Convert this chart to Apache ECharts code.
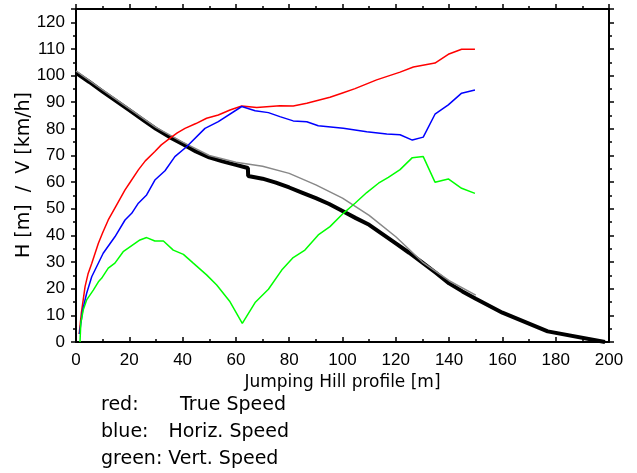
<!DOCTYPE html>
<html>
<head>
<meta charset="utf-8">
<script src="https://cdn.jsdelivr.net/npm/echarts@6/dist/echarts.min.js"></script>
<style>html,body{margin:0;padding:0;background:#fff}#c{width:637px;height:473px}</style>
</head>
<body>
<div id="c"></div>
<script>
// Hill profile (actual, thick black)
var blackX = [0, 5, 10, 15, 20, 25, 30, 35, 40, 45, 50, 55, 60, 64.5, 64.6, 70, 75, 80, 85, 90, 95, 100, 105, 110, 115, 120, 125, 130, 135, 140, 145, 150, 160, 177, 198.5];
var blackY = [101, 97.6, 94, 90.5, 87, 83.5, 80, 77, 74.3, 71.5, 69.3, 67.8, 66.5, 65.3, 62.3, 61.3, 59.8, 58, 56, 54, 51.8, 49.2, 46.5, 44, 40.5, 37, 33.5, 29.8, 26, 22, 19, 16.2, 11, 4, 0];
// Hill profile (reference, thin grey)
var greyX = [0, 10, 20, 30, 40, 50, 60, 70, 80, 90, 100, 110, 120, 130, 140, 150];
var greyY = [101.8, 94.6, 87.6, 80.6, 75, 70, 67.5, 66, 63.3, 59, 54, 47.5, 39.5, 30, 23, 17.6];
// True speed (red)
var redX = [1.2, 2, 3.4, 4.5, 5.9, 8.4, 10, 12.1, 15, 18.4, 20, 23.4, 26, 29.6, 32, 35.3, 38, 40.9, 45, 49, 53.4, 57.8, 62.2, 67.8, 76.5, 81.5, 86.6, 95.3, 100, 104.7, 112.8, 121.6, 126.6, 134.7, 139.7, 144.7, 149.7];
var redY = [3, 10.8, 20.8, 25.5, 29.5, 37.1, 41, 45.8, 51, 57.1, 59.5, 64.6, 68, 71.5, 74, 76.5, 78.5, 80.2, 82, 84, 85.2, 87.1, 88.6, 88, 88.7, 88.6, 89.6, 91.9, 93.5, 95.1, 98.4, 101.3, 103.2, 104.7, 108, 109.9, 109.9];
// Horizontal speed (blue)
var blueX = [1.3, 2.5, 4, 5.9, 10.2, 14.6, 18.4, 20.9, 23.4, 26.5, 29.6, 33.4, 37.1, 41.5, 48.4, 53.4, 62.2, 67.2, 72.2, 76.5, 81.5, 86.6, 90.9, 100.3, 109.1, 116.6, 121.6, 126.2, 130.3, 134.7, 139.7, 144.7, 149.7];
var blueY = [3, 12, 18.3, 24.5, 33.3, 39.5, 45.8, 48.3, 52.1, 55.2, 60.8, 64.3, 69.6, 73.3, 80.2, 82.7, 88.4, 86.8, 86.1, 84.6, 83, 82.7, 81.2, 80.2, 78.9, 78.1, 77.8, 75.8, 76.9, 85.5, 89, 93.4, 94.6];
// Vertical speed (green)
var greenX = [1.5, 1.8, 2.7, 4, 6.5, 8.4, 9.6, 12.1, 14.6, 17.7, 24, 26.5, 29.6, 32.8, 36.5, 40.3, 44, 49, 52.8, 57.8, 62.4, 67.2, 72.2, 77.2, 81.5, 85.9, 90.9, 95.3, 100.3, 104.7, 109.1, 113.5, 117.2, 121.6, 126.2, 130.3, 134.7, 139.7, 144.7, 149.7];
var greenY = [0, 7, 12, 15.8, 19.5, 22.6, 23.9, 27.7, 29.6, 33.9, 38.3, 39.2, 37.9, 37.9, 34.5, 32.9, 29.6, 25.2, 21.4, 15.1, 7, 14.8, 19.8, 27, 31.7, 34.5, 40.2, 43.3, 48.3, 52.1, 56.1, 59.6, 61.8, 64.7, 69.2, 69.6, 60, 61.2, 57.7, 55.8];

// Texts
var yTitle = 'H [m]  /  V [km/h]';
var xTitle = 'Jumping Hill profile [m]';
var legendKeys = ['red:', 'blue:', 'green: Vert. Speed'];
var legendNames = ['True Speed', 'Horiz. Speed', ''];

function zip(xs, ys) { return xs.map(function (x, i) { return [x, ys[i]]; }); }

var TICKFONT = 'Liberation Sans';
var TEXTFONT = 'DejaVu Sans';
var chart = echarts.init(document.getElementById('c'), null, { renderer: 'canvas' });

function xAx(pos) {
  return {
    type: 'value', min: 0, max: 200, interval: 20, position: pos,
    axisLine: { show: true, onZero: false, lineStyle: { color: '#000', width: 2 } },
    axisTick: { show: true, inside: pos === 'bottom', length: 5, lineStyle: { color: '#000', width: 1.5 } },
    minorTick: { show: true, splitNumber: 2, length: 3, lineStyle: { color: '#000', width: 1.5 } },
    splitLine: { show: false },
    axisLabel: { show: pos === 'bottom', color: '#000', fontSize: 17, fontFamily: TICKFONT, margin: 10 },
    name: pos === 'bottom' ? xTitle : '',
    nameLocation: 'middle', nameGap: 32,
    nameTextStyle: { color: '#000', fontSize: 17, fontFamily: TEXTFONT }
  };
}
function yAx(pos) {
  return {
    type: 'value', min: 0, max: 125, interval: 10, position: pos,
    axisLine: { show: true, onZero: false, lineStyle: { color: '#000', width: 2 } },
    axisTick: { show: true, inside: false, length: 5, lineStyle: { color: '#000', width: 1.5 } },
    minorTick: { show: true, splitNumber: 2, length: 3, lineStyle: { color: '#000', width: 1.5 } },
    splitLine: { show: false },
    axisLabel: { show: pos === 'left', showMaxLabel: false, color: '#000', fontSize: 17, fontFamily: TICKFONT, margin: 11 }
  };
}

function ser(name, xs, ys, color, width, z) {
  return {
    name: name, type: 'line', data: zip(xs, ys), showSymbol: false, symbol: 'none',
    lineStyle: { color: color, width: width }, z: z, animation: false, silent: true
  };
}

var rowY = [405, 432, 459];
var nameRight = [286, 289, 289];
var graphics = [{
  type: 'text', x: 24, y: 175, rotation: Math.PI / 2,
  style: { text: yTitle, align: 'center', verticalAlign: 'middle', fill: '#000', fontSize: 19, fontFamily: TEXTFONT }
}];
legendKeys.forEach(function (k, r) {
  graphics.push({
    type: 'text', x: 101, y: rowY[r],
    style: { text: k, align: 'left', verticalAlign: 'middle', fill: '#000', fontSize: 19, fontFamily: TEXTFONT }
  });
  if (legendNames[r]) {
    graphics.push({
      type: 'text', x: nameRight[r], y: rowY[r],
      style: { text: legendNames[r], align: 'right', verticalAlign: 'middle', fill: '#000', fontSize: 19, fontFamily: TEXTFONT }
    });
  }
});

chart.setOption({
  animation: false,
  backgroundColor: '#fff',
  grid: { left: 76, right: 28, top: 9, bottom: 131, containLabel: false },
  xAxis: [xAx('bottom'), xAx('top')],
  yAxis: [yAx('left'), yAx('right')],
  series: [
    ser('black', blackX, blackY, '#000000', 4, 2),
    ser('grey', greyX, greyY, '#888888', 1.5, 3),
    ser('red', redX, redY, '#ff0000', 1.5, 4),
    ser('blue', blueX, blueY, '#0000ff', 1.5, 4),
    ser('green', greenX, greenY, '#00ff00', 1.5, 4)
  ],
  graphic: graphics
});
</script>
</body>
</html>
